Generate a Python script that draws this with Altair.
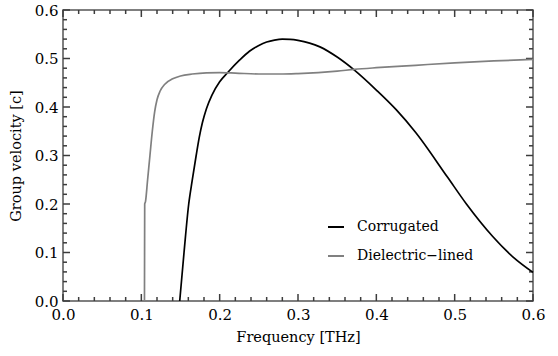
import altair as alt
import pandas as pd

# Corrugated waveguide group velocity (black)
corr_freq = [0.149, 0.1545, 0.1605, 0.165, 0.170, 0.174, 0.178, 0.183, 0.19, 0.2, 0.21, 0.2256, 0.238,
             0.25, 0.26, 0.27, 0.28, 0.29, 0.30, 0.328, 0.35, 0.372, 0.40, 0.4256, 0.45,
             0.491, 0.515, 0.5486, 0.575, 0.6]
corr_vg = [0.0, 0.1, 0.2, 0.249, 0.3, 0.338, 0.368, 0.396, 0.424, 0.452, 0.4706, 0.497, 0.515,
           0.527, 0.534, 0.538, 0.540, 0.5395, 0.5375, 0.524, 0.503, 0.476, 0.435, 0.394, 0.348,
           0.255, 0.2, 0.133, 0.09, 0.059]

# Dielectric-lined waveguide group velocity (gray)
diel_freq = [0.1040, 0.1043, 0.1053, 0.108, 0.111, 0.114, 0.117, 0.12, 0.124, 0.13, 0.14, 0.15,
             0.165, 0.183, 0.2, 0.22, 0.25, 0.277, 0.3, 0.35, 0.372, 0.4, 0.45, 0.5, 0.55, 0.6]
diel_vg = [0.0, 0.2, 0.205, 0.25, 0.3, 0.35, 0.39, 0.415, 0.433, 0.447, 0.458, 0.464,
           0.468, 0.4705, 0.471, 0.470, 0.468, 0.468, 0.469, 0.474, 0.4776, 0.481, 0.486, 0.491, 0.495, 0.498]

series_names = ["Corrugated", "Dielectric\u2212lined"]
series_colors = ["#000000", "#808080"]

major_ticks = [0.0, 0.1, 0.2, 0.3, 0.4, 0.5, 0.6]
minor_ticks = [0.02, 0.04, 0.06, 0.08, 0.12, 0.14, 0.16, 0.18, 0.22, 0.24, 0.26, 0.28,
               0.32, 0.34, 0.36, 0.38, 0.42, 0.44, 0.46, 0.48, 0.52, 0.54, 0.56, 0.58]

W, H = 470, 291
FONT = "DejaVu Serif"
FRAME = "#3c3c3c"

lines_df = pd.concat([
    pd.DataFrame({"freq": corr_freq, "vg": corr_vg, "series": series_names[0]}),
    pd.DataFrame({"freq": diel_freq, "vg": diel_vg, "series": series_names[1]}),
])

xscale = alt.Scale(domain=[0, 0.6], nice=False, zero=False)
yscale = alt.Scale(domain=[0, 0.6], nice=False, zero=False)

lines = alt.Chart(lines_df).mark_line(interpolate="monotone", strokeWidth=1.7).encode(
    x=alt.X("freq:Q", scale=xscale,
            axis=alt.Axis(title="Frequency [THz]", values=major_ticks, format=".1f",
                          ticks=False, domain=False, grid=False, labelFlush=False,
                          labelFont=FONT, labelFontSize=15, labelColor="black",
                          labelPadding=6, titleFont=FONT, titleFontSize=14.5,
                          titleFontWeight="normal", titleColor="black", titlePadding=8)),
    y=alt.Y("vg:Q", scale=yscale,
            axis=alt.Axis(title="Group velocity [c]", values=major_ticks, format=".1f",
                          ticks=False, domain=False, grid=False, labelFlush=False,
                          labelFont=FONT, labelFontSize=15, labelColor="black",
                          labelPadding=5, titleFont=FONT, titleFontSize=14.5,
                          titleFontWeight="normal", titleColor="black", titlePadding=11)),
    color=alt.Color("series:N",
                    scale=alt.Scale(domain=series_names, range=series_colors),
                    legend=alt.Legend(title=None, orient="none", legendX=264, legendY=208,
                                      symbolType="stroke", symbolSize=256,
                                      symbolStrokeWidth=2, labelFont=FONT, labelFontSize=14,
                                      labelColor="black", labelOffset=12, rowPadding=13,
                                      padding=0)),
    detail="series:N",
)

major_df = pd.DataFrame({"t": major_ticks})
minor_df = pd.DataFrame({"t": minor_ticks})

def xticks(df, length, top):
    y0, y1 = (0, length) if top else (H - length, H)
    return alt.Chart(df).mark_rule(strokeWidth=1.5, color=FRAME).encode(
        x=alt.X("t:Q", scale=xscale), y=alt.value(y0), y2=alt.value(y1))

def yticks(df, length, right):
    x0, x1 = (W - length, W) if right else (0, length)
    return alt.Chart(df).mark_rule(strokeWidth=1.5, color=FRAME).encode(
        y=alt.Y("t:Q", scale=yscale), x=alt.value(x0), x2=alt.value(x1))

tick_layers = []
for top in (False, True):
    tick_layers.append(xticks(major_df, 7, top))
    tick_layers.append(xticks(minor_df, 4, top))
for right in (False, True):
    tick_layers.append(yticks(major_df, 7, right))
    tick_layers.append(yticks(minor_df, 4, right))

chart = alt.layer(*tick_layers, lines).properties(
    width=W, height=H,
    background="white",
    autosize=alt.AutoSizeParams(type="none"),
    padding={"left": 63, "top": 10, "right": 25, "bottom": 55},
).configure_view(stroke="#555555", strokeWidth=1.5)

chart.save("out.html", embed_options={"renderer": "svg", "actions": False})
